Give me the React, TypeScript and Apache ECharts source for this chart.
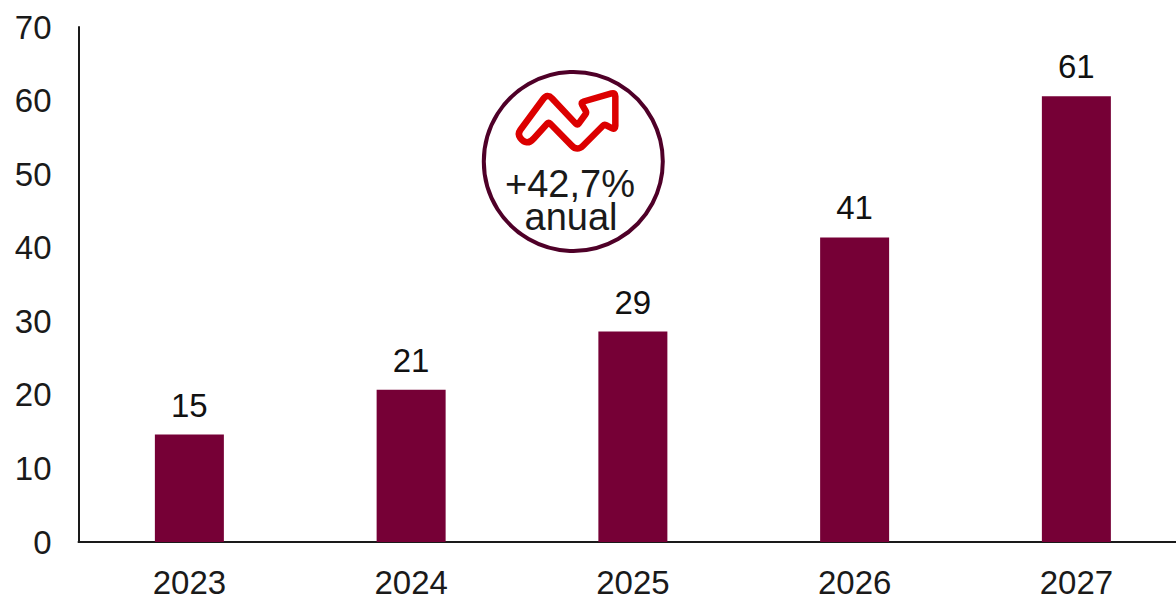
import React, { useEffect, useRef } from "react";
import * as echarts from "echarts";

const categories = ["2023", "2024", "2025", "2026", "2027"];
const values = [14.6, 20.7, 28.6, 41.4, 60.6];
const barColor = "#760036";
const ringColor = "#4f0028";
const iconRed = "#dc0000";
const font = '"Liberation Sans", Arial, sans-serif';

// Icon outline, in pixels of a 3x crop whose corner is at (470, 60)
const iconOutline: [number, number, number][] = [
  [142, 222, 5], [232, 100, 7], [322, 196, 2], [350, 158, 2], [332, 127, 3], [436, 97, 4],
  [436, 210, 4], [403, 193, 2], [322, 274, 8], [236, 186, 2], [180, 248, 6], [160, 246, 5],
];

function roundedPath(pts: [number, number, number][]) {
  const n = pts.length;
  const P = pts.map(([x, y, r]) => [470 + x / 3, 60 + y / 3, r]);
  let d = "";
  for (let i = 0; i < n; i++) {
    const [x, y, r] = P[i];
    const [px, py] = P[(i + n - 1) % n];
    const [nx, ny] = P[(i + 1) % n];
    const lp = Math.hypot(px - x, py - y);
    const ln = Math.hypot(nx - x, ny - y);
    const a = Math.min(r, lp / 2) / lp;
    const b = Math.min(r, ln / 2) / ln;
    const sx = x + (px - x) * a, sy = y + (py - y) * a;
    const ex = x + (nx - x) * b, ey = y + (ny - y) * b;
    d += `${i === 0 ? "M" : "L"}${sx.toFixed(2)} ${sy.toFixed(2)} Q${x.toFixed(2)} ${y.toFixed(2)} ${ex.toFixed(2)} ${ey.toFixed(2)} `;
  }
  return d + "Z";
}

echarts.graphic.registerShape("trendIcon", echarts.graphic.extendPath(roundedPath(iconOutline), {}) as any);

export default function App() {
  const ref = useRef<HTMLDivElement>(null);
  useEffect(() => {
    const chart = echarts.init(ref.current!, undefined, { renderer: "svg" });
    chart.setOption({
      animation: false,
      backgroundColor: "#ffffff",
      grid: { left: 78.5, top: 27, width: 1108.75, height: 515, containLabel: false, outerBoundsMode: "none" },
      xAxis: {
        type: "category",
        data: categories,
        axisTick: { show: false },
        axisLine: { lineStyle: { color: "#1a1a1a", width: 2 } },
        axisLabel: { color: "#1a1a1a", fontFamily: font, fontSize: 33, lineHeight: 24, margin: 28, hideOverlap: false },
      },
      yAxis: {
        type: "value",
        min: 0,
        max: 70,
        interval: 10,
        splitLine: { show: false },
        axisTick: { show: false },
        axisLine: { show: true, lineStyle: { color: "#1a1a1a", width: 2 } },
        axisLabel: { color: "#1a1a1a", fontFamily: font, fontSize: 33, margin: 27 },
      },
      series: [
        {
          type: "bar",
          data: values,
          barWidth: 69,
          itemStyle: { color: barColor },
          label: {
            show: true,
            position: "top",
            distance: 13,
            color: "#111111",
            fontFamily: font,
            fontSize: 33,
            formatter: (p: any) => String(Math.round(p.value)),
          },
        },
      ],
      graphic: [
        {
          type: "circle",
          shape: { cx: 573.3, cy: 161.5, r: 89.5 },
          style: { fill: "#ffffff", stroke: ringColor, lineWidth: 4 },
        },
        {
          type: "trendIcon",
          x: 0,
          y: 0,
          style: { fill: "#ffffff", stroke: iconRed, lineWidth: 6.5, lineJoin: "round" },
        },
        {
          type: "text",
          x: 570,
          y: 184,
          style: { text: "+42,7%", fill: "#1a1a1a", font: `38px ${font}`, lineHeight: 30, textAlign: "center", textVerticalAlign: "middle" },
        },
        {
          type: "text",
          x: 571,
          y: 217,
          style: { text: "anual", fill: "#1a1a1a", font: `38px ${font}`, lineHeight: 30, textAlign: "center", textVerticalAlign: "middle" },
        },
      ],
    });
    return () => chart.dispose();
  }, []);
  return (
    <div
      ref={ref}
      style={{ position: "fixed", left: 0, top: 0, width: 1176, height: 594, overflow: "hidden", background: "#fff" }}
    />
  );
}
